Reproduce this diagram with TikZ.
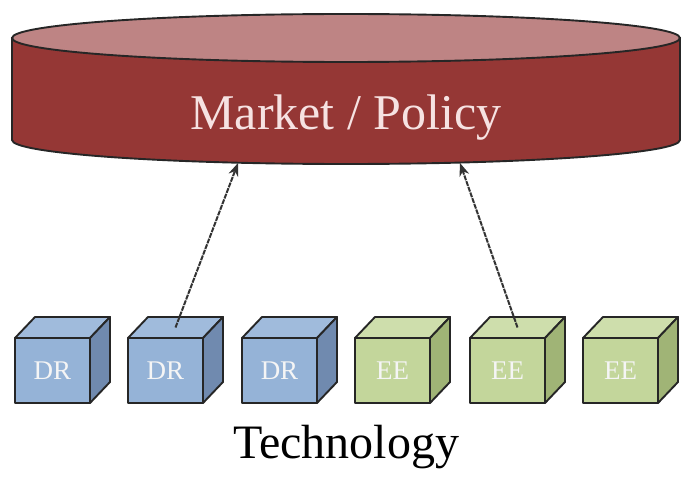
\documentclass[tikz,border=0pt]{standalone}
\usepackage{fontspec}
\setmainfont{Liberation Serif}
\usetikzlibrary{arrows.meta,positioning}
\definecolor{cylside}{RGB}{149,55,53}
\definecolor{cyltop}{RGB}{190,132,132}
\definecolor{cyltext}{RGB}{246,226,226}
\definecolor{drfront}{RGB}{149,179,215}
\definecolor{drtop}{RGB}{160,187,220}
\definecolor{drside}{RGB}{112,138,175}
\definecolor{eefront}{RGB}{195,214,155}
\definecolor{eetop}{RGB}{206,222,172}
\definecolor{eeside}{RGB}{160,180,118}
\newcommand{\techbox}[4]{%
  % front face, top face, right side, then the label
  \filldraw[#3front,boxline] (#1,80) rectangle ++(75,65);
  \filldraw[#3top,boxline] (#1,145) -- ++(20,21) -- ++(75,0) -- ++(-20,-21) -- cycle;
  \filldraw[#3side,boxline] (#1+75,80) -- ++(20,21) -- ++(0,65) -- ++(-20,-21) -- cycle;
  \node[boxlabel] (#2) at (#1+37.5,112.5) {#4};
  \coordinate (#2-top) at (#1+47.5,155.5);
}

\begin{document}
\begin{tikzpicture}[x=1pt,y=1pt,
    boxline/.style={draw=black!85,line width=1.9pt,line join=round},
    boxlabel/.style={text=white!92!gray,font=\fontsize{27}{30}\selectfont},
    link/.style={draw=black!80,line width=2pt,dash pattern=on 5pt off 1pt,
      -{Stealth[length=13pt,width=10pt]}}]
  \useasboundingbox (0,0) rectangle (682,483);
  % market / policy layer
  \filldraw[fill=cylside,draw=black!85,line width=1.9pt]
    (12,445) -- (12,343) arc[start angle=180,end angle=360,x radius=334,y radius=24]
    -- (680,445) -- cycle;
  \filldraw[fill=cyltop,draw=black!85,line width=1.9pt]
    (346,445) ellipse[x radius=334,y radius=24];
  \node[text=cyltext,font=\fontsize{50}{60}\selectfont] (market) at (346,365) {Market / Policy};
  \coordinate (market-in1) at (238,320);
  \coordinate (market-in2) at (460,320);
  % technology boxes
  \foreach \x/\name/\kind/\txt in {15/dr1/dr/DR,128/dr2/dr/DR,242/dr3/dr/DR,
      355/ee1/ee/EE,470/ee2/ee/EE,583/ee3/ee/EE} {
    \techbox{\x}{\name}{\kind}{\txt}
  }
  \node[font=\fontsize{48}{58}\selectfont] (tech) at (346,36) {Technology};
  \draw[link] (dr2-top) -- (market-in1);
  \draw[link] (ee2-top) -- (market-in2);
\end{tikzpicture}
\end{document}
